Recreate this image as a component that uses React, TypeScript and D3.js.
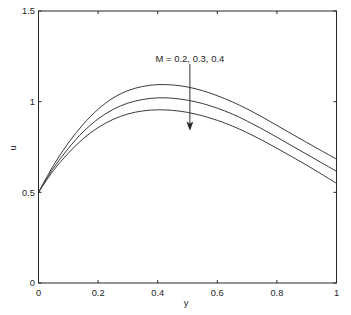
import React from "react";
import * as d3 from "d3";

const xValues = [0, 0.05, 0.1, 0.15, 0.2, 0.25, 0.3, 0.35, 0.4, 0.45, 0.5, 0.55, 0.6, 0.65, 0.7, 0.75, 0.8, 0.85, 0.9, 0.95, 1.0];
const uM02 = [0.5, 0.648, 0.772, 0.875, 0.958, 1.02, 1.061, 1.084, 1.094, 1.092, 1.081, 1.061, 1.033, 0.999, 0.96, 0.916, 0.869, 0.822, 0.775, 0.729, 0.683];
const uM03 = [0.5, 0.633, 0.742, 0.834, 0.905, 0.957, 0.992, 1.012, 1.021, 1.019, 1.008, 0.99, 0.964, 0.932, 0.893, 0.85, 0.804, 0.757, 0.71, 0.663, 0.616];
const uM04 = [0.5, 0.62, 0.716, 0.796, 0.857, 0.902, 0.932, 0.949, 0.955, 0.952, 0.941, 0.922, 0.897, 0.866, 0.829, 0.788, 0.743, 0.697, 0.65, 0.6, 0.55];
const seriesNames = ["M = 0.2", "M = 0.3", "M = 0.4"];
const xTicks = [0, 0.2, 0.4, 0.6, 0.8, 1];
const yTicks = [0, 0.5, 1, 1.5];
const annotation = "M = 0.2, 0.3, 0.4";

const W = 351;
const H = 315;
const L = 38.5, R = 336.5, T = 11, B = 283;

export default function App() {
  const x = d3.scaleLinear().domain([0, 1]).range([L, R]);
  const y = d3.scaleLinear().domain([0, 1.5]).range([B, T]);
  const line = d3
    .line<number>()
    .x((_, i) => x(xValues[i]))
    .y((d) => y(d))
    .curve(d3.curveCatmullRom.alpha(0.5));
  const series = [uM02, uM03, uM04];
  const font = "'Liberation Sans', Arial, Helvetica, sans-serif";
  const axisColor = "#262626";
  const textColor = "#262626";
  const tickLen = 3;

  const arrowX = x(0.508);
  const arrowTop = 64;
  const arrowTip = 130;

  return (
    <svg
      width={W}
      height={H}
      style={{ position: "absolute", left: 0, top: 0, background: "#fff" }}
      fontFamily={font}
    >
      <rect x={0} y={0} width={W} height={H} fill="#fff" />
      {series.map((s, i) => (
        <path key={seriesNames[i]} d={line(s) || ""} fill="none" stroke="#3a3a3a" strokeWidth={1} />
      ))}
      <rect x={L} y={T} width={R - L} height={B - T} fill="none" stroke={axisColor} strokeWidth={1} />
      {xTicks.map((t) => (
        <g key={"x" + t}>
          <line x1={x(t)} x2={x(t)} y1={B} y2={B - tickLen} stroke={axisColor} />
          <line x1={x(t)} x2={x(t)} y1={T} y2={T + tickLen} stroke={axisColor} />
          <text x={x(t)} y={295.5} fontSize={9.3} textAnchor="middle" fill={textColor}>
            {String(t)}
          </text>
        </g>
      ))}
      {yTicks.map((t) => (
        <g key={"y" + t}>
          <line x1={L} x2={L + tickLen} y1={y(t)} y2={y(t)} stroke={axisColor} />
          <line x1={R} x2={R - tickLen} y1={y(t)} y2={y(t)} stroke={axisColor} />
          <text x={35} y={y(t) + 3.3} fontSize={9.3} textAnchor="end" fill={textColor}>
            {String(t)}
          </text>
        </g>
      ))}
      <text x={186} y={306} fontSize={9.3} textAnchor="middle" fill={textColor}>
        y
      </text>
      <text
        x={0}
        y={0}
        fontSize={9.3}
        textAnchor="middle"
        fill={textColor}
        transform={`translate(15.5,148) rotate(-90)`}
      >
        u
      </text>
      <text x={arrowX} y={62} fontSize={9.5} textAnchor="middle" fill={textColor}>
        {annotation}
      </text>
      <line x1={arrowX} x2={arrowX} y1={arrowTop} y2={arrowTip - 2} stroke="#333" strokeWidth={1} />
      <path
        d={`M${arrowX},${arrowTip} L${arrowX - 3},${arrowTip - 8} L${arrowX},${arrowTip - 6} L${arrowX + 3},${arrowTip - 8} Z`}
        fill="#222"
        stroke="#222"
        strokeWidth={0.5}
      />
    </svg>
  );
}
